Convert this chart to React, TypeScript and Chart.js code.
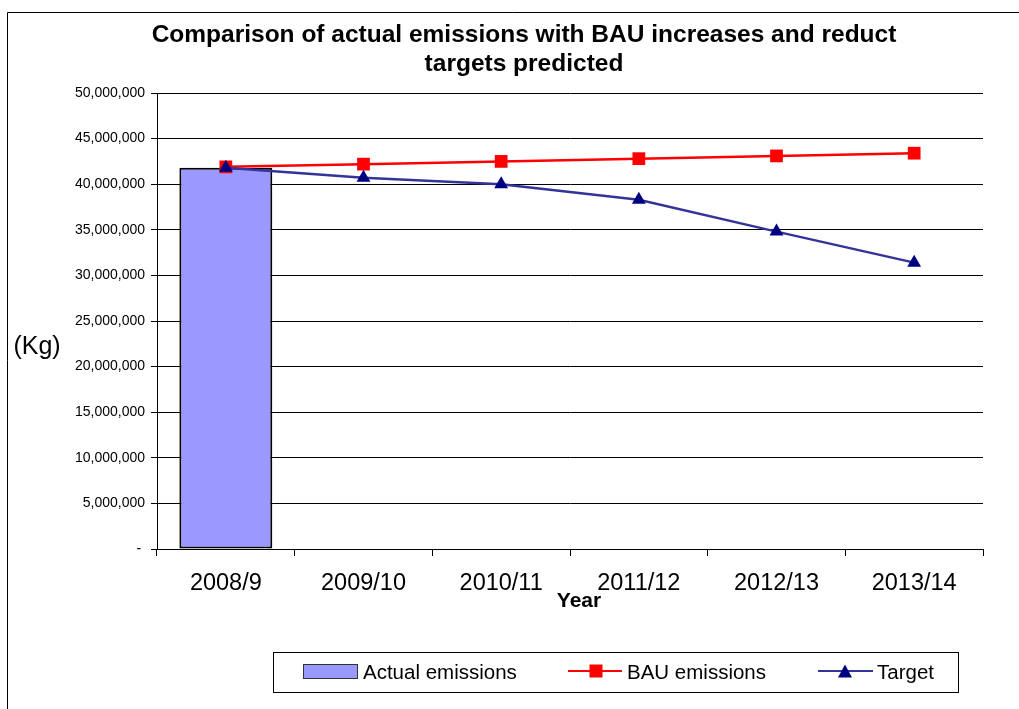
import React, { useEffect, useRef } from "react";
import { Chart, registerables } from "chart.js";

Chart.register(...registerables);

// Financial years on the category axis
const years = ["2008/9", "2009/10", "2010/11", "2011/12", "2012/13", "2013/14"];
// Measured emissions (only the first year is known)
const actualEmissions = [41800000, null, null, null, null, null];
// Business-as-usual projection
const bauEmissions = [41900000, 42200000, 42500000, 42800000, 43100000, 43400000];
// Reduction target path
const targetEmissions = [41800000, 40700000, 40000000, 38300000, 34800000, 31400000];

const titleLines = [
  "Comparison of actual emissions with BAU increases and reduct",
  "targets predicted",
];
const yAxisLabel = "(Kg)";
const xAxisLabel = "Year";
const yMax = 50000000;
const yStep = 5000000;

const FONT = '"Liberation Sans", Arial, sans-serif';

const BAR_FILL = "#9999ff";
const BAU_COLOR = "#ff0000";
const TARGET_LINE = "#333399";
const TARGET_MARK = "#000080";

// Draws the frame, titles and the boxed legend around the plot
const decorations = {
  id: "decorations",
  beforeDraw(chart: any) {
    const { ctx, width, height } = chart;
    ctx.save();
    ctx.fillStyle = "#ffffff";
    ctx.fillRect(0, 0, width, height);
    ctx.strokeStyle = "#000000";
    ctx.lineWidth = 1;
    ctx.beginPath();
    ctx.moveTo(7.5, height);
    ctx.lineTo(7.5, 12.5);
    ctx.lineTo(width, 12.5);
    ctx.stroke();
    ctx.restore();
  },
  afterDraw(chart: any) {
    const { ctx } = chart;
    const ds = chart.data.datasets;
    ctx.save();
    ctx.fillStyle = "#000000";

    // Title
    ctx.font = `bold 24.5px ${FONT}`;
    ctx.textAlign = "center";
    ctx.textBaseline = "alphabetic";
    ctx.fillText(titleLines[0], 524, 42);
    ctx.fillText(titleLines[1], 524, 71);

    // Axis titles
    ctx.textBaseline = "middle";
    ctx.font = `25px ${FONT}`;
    ctx.fillText(yAxisLabel, 37, 347);
    ctx.font = `bold 21px ${FONT}`;
    ctx.fillText(xAxisLabel, 579, 601);

    // Legend box
    ctx.strokeStyle = "#000000";
    ctx.lineWidth = 1;
    ctx.strokeRect(273.5, 652.5, 685, 40);

    const midY = 671;
    ctx.font = `20.5px ${FONT}`;
    ctx.textAlign = "left";
    ctx.textBaseline = "alphabetic";

    // Bar swatch
    ctx.fillStyle = ds[0].backgroundColor;
    ctx.fillRect(303, 664, 55, 15);
    ctx.strokeStyle = "#333333";
    ctx.strokeRect(303.5, 664.5, 54, 14);
    ctx.fillStyle = "#000000";
    ctx.fillText(ds[0].label, 363, 679);

    // BAU line + square
    ctx.strokeStyle = ds[1].borderColor;
    ctx.lineWidth = 2;
    ctx.beginPath();
    ctx.moveTo(568, midY);
    ctx.lineTo(622, midY);
    ctx.stroke();
    ctx.fillStyle = ds[1].pointBackgroundColor;
    ctx.fillRect(596 - 6.5, midY - 6.5, 13, 13);
    ctx.fillStyle = "#000000";
    ctx.fillText(ds[1].label, 627, 679);

    // Target line + triangle
    ctx.strokeStyle = ds[2].borderColor;
    ctx.lineWidth = 2;
    ctx.beginPath();
    ctx.moveTo(818, midY);
    ctx.lineTo(873, midY);
    ctx.stroke();
    ctx.fillStyle = ds[2].pointBackgroundColor;
    ctx.beginPath();
    ctx.moveTo(845, midY - 6.5);
    ctx.lineTo(852, midY + 6.5);
    ctx.lineTo(838, midY + 6.5);
    ctx.closePath();
    ctx.fill();
    ctx.fillStyle = "#000000";
    ctx.fillText(ds[2].label, 877, 679);

    ctx.restore();
  },
};

export default function App() {
  const canvasRef = useRef<HTMLCanvasElement>(null);

  useEffect(() => {
    document.body.style.margin = "0";
    const canvas = canvasRef.current;
    if (!canvas) return;

    const chart = new Chart(canvas, {
      type: "bar",
      data: {
        labels: years,
        datasets: [
          {
            type: "bar",
            label: "Actual emissions",
            data: actualEmissions,
            backgroundColor: BAR_FILL,
            borderColor: "#000000",
            borderWidth: 2,
            borderSkipped: false,
            barPercentage: 0.675,
            categoryPercentage: 1,
            order: 3,
          },
          {
            type: "line",
            label: "BAU emissions",
            data: bauEmissions,
            borderColor: BAU_COLOR,
            backgroundColor: BAU_COLOR,
            borderWidth: 2.5,
            pointStyle: "rect",
            pointRadius: 9,
            pointBorderWidth: 0,
            pointBackgroundColor: BAU_COLOR,
            pointBorderColor: BAU_COLOR,
            tension: 0,
            order: 2,
          },
          {
            type: "line",
            label: "Target",
            data: targetEmissions,
            borderColor: TARGET_LINE,
            backgroundColor: TARGET_MARK,
            borderWidth: 2.5,
            pointStyle: "triangle",
            pointRadius: 8,
            pointBorderWidth: 0,
            pointBackgroundColor: TARGET_MARK,
            pointBorderColor: TARGET_MARK,
            tension: 0,
            order: 1,
          },
        ] as any,
      },
      options: {
        responsive: false,
        animation: false,
        devicePixelRatio: 1,
        events: [],
        layout: { padding: { left: 0, top: 93, right: 36, bottom: 0 } },
        plugins: {
          legend: { display: false },
          title: { display: false },
          tooltip: { enabled: false },
        },
        scales: {
          x: {
            offset: true,
            grid: {
              offset: true,
              drawOnChartArea: false,
              drawTicks: true,
              tickLength: 7,
              color: "#000000",
              lineWidth: 1,
            },
            border: { display: true, color: "#000000", width: 1 },
            ticks: {
              font: { family: FONT, size: 23.5 },
              color: "#000000",
              padding: 13,
              maxRotation: 0,
              autoSkip: false,
            },
            afterFit: (s: any) => {
              s.height = 160;
            },
          },
          y: {
            min: 0,
            max: yMax,
            ticks: {
              stepSize: yStep,
              font: { family: FONT, size: 14 },
              color: "#000000",
              padding: 6,
              callback: (v: any) =>
                Number(v) === 0 ? "- " : Number(v).toLocaleString("en-US"),
            },
            grid: { color: "#000000", lineWidth: 1, tickLength: 6, drawTicks: true },
            border: { display: true, color: "#000000", width: 1 },
            afterFit: (s: any) => {
              s.width = 157;
            },
          },
        },
      } as any,
      plugins: [decorations],
    });

    return () => chart.destroy();
  }, []);

  return (
    <canvas
      ref={canvasRef}
      width={1019}
      height={709}
      style={{ display: "block", width: 1019, height: 709 }}
    />
  );
}
